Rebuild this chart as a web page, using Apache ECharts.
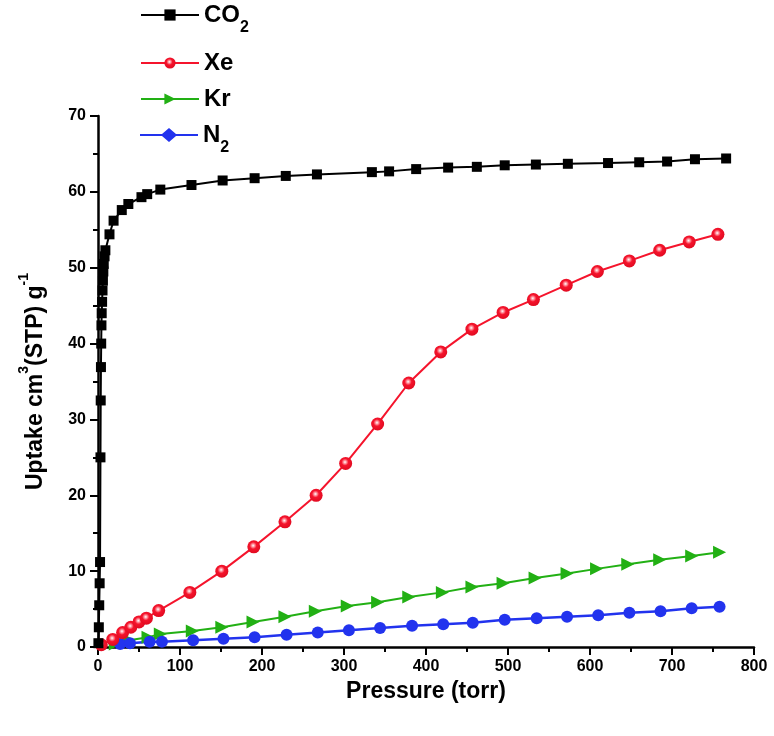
<!DOCTYPE html>
<html>
<head>
<meta charset="utf-8">
<script src="https://cdn.jsdelivr.net/npm/echarts@6/dist/echarts.min.js"></script>
<style>
html,body{margin:0;padding:0;background:#fff;}
#chart{width:774px;height:736px;}
</style>
</head>
<body>
<div id="chart"></div>
<script>
// Data
var co2P = [0.5, 1.0, 1.5, 2.0, 2.5, 3.0, 3.3, 3.6, 3.9, 4.2, 4.5, 5, 5.5, 6, 6.5, 7, 8, 9, 14, 19, 29, 37, 53, 60, 76, 114, 152, 191, 229, 267, 334, 355, 388, 427, 462, 496, 534, 573, 622, 660, 694, 728, 766];
var co2U = [0.5, 2.6, 5.5, 8.4, 11.2, 25.0, 32.5, 36.9, 40.0, 42.4, 44.0, 45.5, 47.0, 48.3, 49.5, 50.5, 51.5, 52.3, 54.4, 56.2, 57.6, 58.4, 59.3, 59.7, 60.3, 60.9, 61.5, 61.8, 62.1, 62.3, 62.6, 62.7, 63.0, 63.2, 63.3, 63.5, 63.6, 63.7, 63.8, 63.9, 64.0, 64.3, 64.4];

var xeP = [4, 18, 30, 40, 50, 59, 74, 112, 151, 190, 228, 266, 302, 341, 379, 418, 456, 494, 531, 571, 609, 648, 685, 721, 756];
var xeU = [0.3, 1.0, 1.9, 2.6, 3.3, 3.8, 4.8, 7.2, 10.0, 13.2, 16.5, 20.0, 24.2, 29.4, 34.8, 38.9, 41.9, 44.1, 45.8, 47.7, 49.5, 50.9, 52.3, 53.4, 54.4];

var krP = [21, 38, 61, 76, 115, 151, 189, 228, 265, 304, 341, 379, 420, 456, 494, 533, 572, 608, 646, 685, 724, 758];
var krU = [0.4, 0.9, 1.3, 1.7, 2.1, 2.6, 3.3, 4.0, 4.7, 5.4, 5.9, 6.6, 7.2, 7.9, 8.4, 9.1, 9.7, 10.3, 10.9, 11.5, 12.0, 12.5];

var n2P = [27, 39, 63, 78, 116, 153, 191, 230, 268, 306, 344, 383, 421, 457, 496, 535, 572, 610, 648, 686, 724, 758];
var n2U = [0.4, 0.5, 0.7, 0.7, 0.9, 1.1, 1.3, 1.6, 1.9, 2.2, 2.5, 2.8, 3.0, 3.2, 3.6, 3.8, 4.0, 4.2, 4.5, 4.7, 5.1, 5.3];

var seriesNames = ['CO2', 'Xe', 'Kr', 'N2'];
var xTicks = [0, 100, 200, 300, 400, 500, 600, 700, 800];
var yTicks = [0, 10, 20, 30, 40, 50, 60, 70];

function pairs(xs, ys) { return xs.map(function (x, i) { return [x, ys[i]]; }); }

var FONT = 'Liberation Sans, Arial, sans-serif';
var C_CO2 = '#000000', C_XE = '#f5142c', C_KR = '#22b014', C_N2 = '#2233ee';

var legendText = {
  color: '#000', fontSize: 24, fontWeight: 'bold', fontFamily: FONT,
  rich: {
    sub: { fontSize: 16, fontWeight: 'bold', fontFamily: FONT, color: '#000', verticalAlign: 'bottom', lineHeight: 42 }
  }
};
function mkLegend(name, top, icon) {
  var d = { name: name };
  if (icon) d.icon = icon;
  return {
    data: [d], left: 140, top: top, orient: 'vertical',
    itemWidth: 58, itemHeight: 14, padding: 0,
    textStyle: legendText,
    formatter: function (n) { return n === 'CO2' ? 'CO{sub|2}' : (n === 'N2' ? 'N{sub|2}' : n); }
  };
}

var chart = echarts.init(document.getElementById('chart'), null, { renderer: 'canvas' });
var axisLabelStyle = { color: '#000', fontSize: 16, fontWeight: 'bold', fontFamily: FONT };
chart.setOption({
  animation: false,
  backgroundColor: '#fff',
  grid: { left: 98, right: 20, top: 116, bottom: 89, containLabel: false, outerBoundsMode: 'none' },
  legend: [
    mkLegend('CO2', 3),
    mkLegend('Xe', 51),
    mkLegend('Kr', 87),
    mkLegend('N2', 123, 'path://M0,6H22L29,0L36,6H58V8H36L29,14L22,8H0Z')
  ],
  xAxis: {
    type: 'value', min: xTicks[0], max: xTicks[xTicks.length - 1], interval: 100,
    name: 'Pressure (torr)', nameLocation: 'middle', nameGap: 32,
    nameTextStyle: { color: '#000', fontSize: 23, fontWeight: 'bold', fontFamily: FONT },
    axisLine: { show: true, onZero: false, lineStyle: { color: '#000', width: 2.5 } },
    axisTick: { show: true, inside: false, length: 8, lineStyle: { color: '#000', width: 2 } },
    minorTick: { show: true, splitNumber: 2, length: 5, lineStyle: { color: '#000', width: 2 } },
    axisLabel: Object.assign({ margin: 12 }, axisLabelStyle),
    splitLine: { show: false }
  },
  yAxis: {
    type: 'value', min: yTicks[0], max: yTicks[yTicks.length - 1], interval: 10,
    name: 'Uptake cm{sup|3}(STP) g{sup|-1}', nameLocation: 'middle', nameGap: 43,
    nameTextStyle: {
      color: '#000', fontSize: 23, fontWeight: 'bold', fontFamily: FONT,
      rich: { sup: { fontSize: 14, fontWeight: 'bold', fontFamily: FONT, color: '#000', verticalAlign: 'top', lineHeight: 38 } }
    },
    axisLine: { show: true, onZero: false, lineStyle: { color: '#000', width: 2.5 } },
    axisTick: { show: true, inside: false, length: 8, lineStyle: { color: '#000', width: 2 } },
    minorTick: { show: true, splitNumber: 2, length: 5, lineStyle: { color: '#000', width: 2 } },
    axisLabel: Object.assign({ margin: 12 }, axisLabelStyle),
    splitLine: { show: false }
  },
  series: [
    {
      name: seriesNames[0], type: 'line', data: pairs(co2P, co2U), clip: false,
      symbol: 'rect', symbolSize: 10, showAllSymbol: true,
      lineStyle: { color: C_CO2, width: 2 }, itemStyle: { color: C_CO2 }, z: 4
    },
    {
      name: seriesNames[1], type: 'line', data: pairs(xeP, xeU), clip: false,
      symbol: 'circle', symbolSize: 13, showAllSymbol: true,
      lineStyle: { color: C_XE, width: 2 },
      itemStyle: { color: { type: 'radial', x: 0.45, y: 0.4, r: 0.6, colorStops: [
        { offset: 0, color: '#ffffff' }, { offset: 0.22, color: '#ff8a95' }, { offset: 0.45, color: C_XE }, { offset: 1, color: '#e00a20' } ] } },
      z: 3
    },
    {
      name: seriesNames[2], type: 'line', data: pairs(krP, krU), clip: false,
      symbol: 'triangle', symbolSize: [13, 13], symbolRotate: -90, showAllSymbol: true,
      lineStyle: { color: C_KR, width: 2 }, itemStyle: { color: C_KR }, z: 2
    },
    {
      name: seriesNames[3], type: 'line', data: pairs(n2P, n2U), clip: false,
      symbol: 'circle', symbolSize: 12, showAllSymbol: true,
      lineStyle: { color: C_N2, width: 2.5 }, itemStyle: { color: C_N2 }, z: 2
    }
  ]
});
</script>
</body>
</html>
